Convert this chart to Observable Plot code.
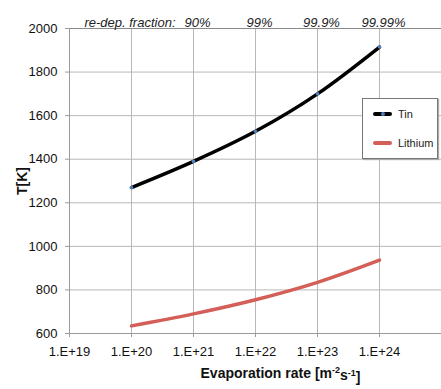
<!DOCTYPE html>
<html><head><meta charset="utf-8">
<script src="https://cdn.jsdelivr.net/npm/d3@7"></script>
<script src="https://cdn.jsdelivr.net/npm/@observablehq/plot@0.6"></script>
<style>
body{margin:0;background:#fff;}
#wrap{position:relative;width:441px;height:389px;}
#legend{position:absolute;left:362px;top:98px;width:74px;height:59px;background:#fff;border:1px solid #777;box-shadow:1px 1px 1px #aaa;font-family:"Liberation Sans",Arial,sans-serif;font-size:11px;color:#222;}
.li{position:absolute;left:10px;display:flex;align-items:center;height:13px;}
.sw{width:19px;height:4px;border-radius:2px;margin-right:6px;position:relative;}
</style></head>
<body><div id="wrap"></div>
<script>
const decades = [1e19, 1e20, 1e21, 1e22, 1e23, 1e24];
const tickLabels = ["1.E+19", "1.E+20", "1.E+21", "1.E+22", "1.E+23", "1.E+24"];
const rates = [1e20, 1e21, 1e22, 1e23, 1e24];
const tin = [1270, 1390, 1528, 1700, 1915];
const lithium = [635, 690, 755, 835, 937];
const yTicks = [600, 800, 1000, 1200, 1400, 1600, 1800, 2000];
const fractionRates = [1e21, 1e22, 1e23, 1e24];
const fractionLabels = ["90%", "99%", "99.9%", "99.99%"];
const seriesNames = ["Tin", "Lithium"];
const xLabel = "Evaporation rate [m-2s-1]";

const tinData = rates.map((r, i) => ({r, v: tin[i]}));
const liData = rates.map((r, i) => ({r, v: lithium[i]}));
const fracData = fractionRates.map((r, i) => ({r, t: fractionLabels[i]}));

const chart = Plot.plot({
  width: 441, height: 389,
  marginLeft: 69, marginRight: 0, marginTop: 28, marginBottom: 56,
  x: {type: "log", domain: [1e19, 1e25]},
  y: {domain: [600, 2000]},
  style: {fontFamily: "Liberation Sans, Arial, sans-serif", fontSize: "13px", background: "#fff", color: "#111"},
  marks: [
    Plot.gridX(decades.slice(1), {stroke: "#b8b8b8", strokeOpacity: 1}),
    Plot.gridY(yTicks.slice(1, -1), {stroke: "#b8b8b8", strokeOpacity: 1}),
    Plot.ruleY([2000], {stroke: "#8a8a8a", strokeWidth: 1.2}),
    Plot.ruleY([600], {stroke: "#9a9a9a"}),
    Plot.ruleX([1e19], {stroke: "#9a9a9a"}),
    Plot.axisY({ticks: yTicks, tickFormat: d => String(d), tickSize: 4, tickPadding: 8, label: "T[K]", labelAnchor: "center", labelArrow: "none", labelOffset: 52, stroke: "#9a9a9a", fill: "#111"}),
    Plot.axisX({ticks: decades, tickFormat: (d) => tickLabels[decades.indexOf(d)], tickSize: 4, tickPadding: 9, label: null, stroke: "#9a9a9a", fill: "#111"}),
    Plot.line(liData, {x: "r", y: "v", stroke: "#d35f58", strokeWidth: 3.5, curve: "monotone-x"}),
    Plot.line(tinData, {x: "r", y: "v", stroke: "#000", strokeWidth: 3.5, curve: "monotone-x"}),
    Plot.dot(tinData, {x: "r", y: "v", r: 1.8, fill: "#4f81bd", stroke: null}),
    Plot.text(fracData, {x: "r", text: "t", frameAnchor: "top", dy: -11, dx: 4, fontStyle: "italic", fontSize: 13, fill: "#222"}),
    Plot.text(["re-dep. fraction:"], {x: () => fractionRates[0], text: d => d, frameAnchor: "top", dy: -11, dx: -18, textAnchor: "end", fontStyle: "italic", fontSize: 13, fill: "#222"}),
    Plot.text([xLabel], {text: d => d, frameAnchor: "bottom", dy: 44, dx: 25, fontWeight: "bold", fontSize: 14})
  ]
});
document.getElementById("wrap").appendChild(chart);

const svg = d3.select(chart);
svg.selectAll('g[aria-label="y-axis tick label"], g[aria-label="x-axis tick label"]').style("font-size", "13px").selectAll("text").style("font-size", "13px");
svg.selectAll('g[aria-label="y-axis label"]').style("font-size", "14px").style("font-weight", "bold").selectAll("text").style("font-size", "14px").style("font-weight", "bold");

// superscripts in the x label
svg.selectAll("text").filter(function(){ return this.textContent === xLabel; }).each(function(){
  const t = d3.select(this); t.text("");
  t.append("tspan").text("Evaporation rate [m");
  t.append("tspan").attr("dy", "-0.45em").attr("font-size", "9px").text("-2");
  t.append("tspan").attr("dy", "0.45em").text("s");
  t.append("tspan").attr("dy", "-0.45em").attr("font-size", "9px").text("-1");
  t.append("tspan").attr("dy", "0.45em").text("]");
});

// legend
const lg = document.createElement("div"); lg.id = "legend";
const colors = ["#000", "#d35f58"];
seriesNames.forEach((n, i) => {
  const row = document.createElement("div"); row.className = "li"; row.style.top = (i === 0 ? 8 : 37) + "px";
  const sw = document.createElement("div"); sw.className = "sw"; sw.style.background = colors[i];
  if (i === 0) { const dt = document.createElement("div"); dt.style.cssText = "position:absolute;left:8px;top:0;width:4px;height:4px;border-radius:2px;background:#4f81bd"; sw.appendChild(dt); }
  const lb = document.createElement("span"); lb.textContent = n;
  row.appendChild(sw); row.appendChild(lb); lg.appendChild(row);
});
document.getElementById("wrap").appendChild(lg);
</script></body></html>
